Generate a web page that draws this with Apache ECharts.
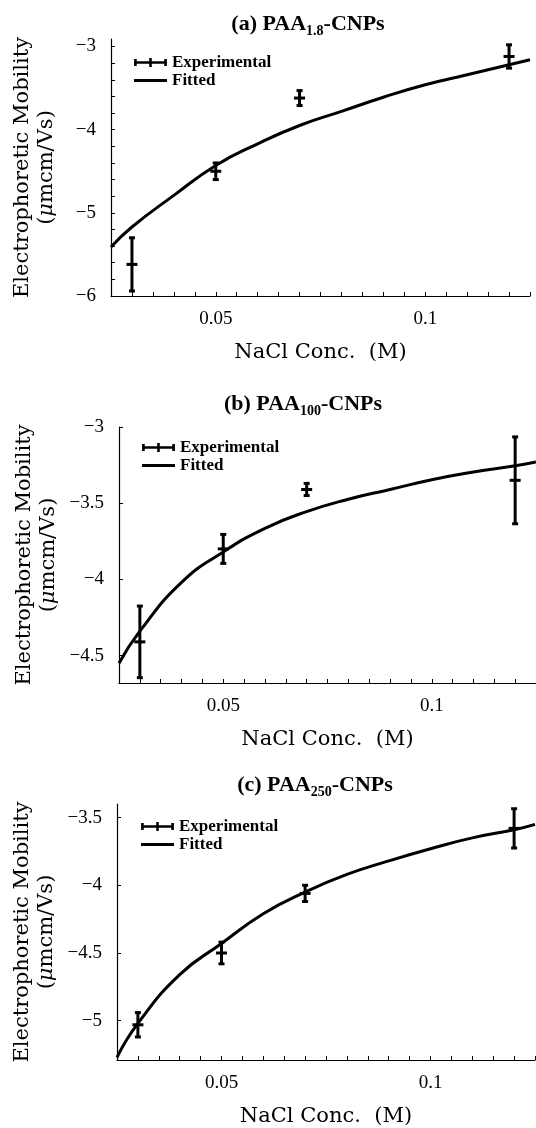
<!DOCTYPE html>
<html>
<head>
<meta charset="utf-8">
<script src="https://cdn.jsdelivr.net/npm/echarts@6/dist/echarts.min.js"></script>
<style>
  html, body { margin: 0; padding: 0; background: #fff; }
  #chart { width: 536px; height: 1128px; }
</style>
</head>
<body>
<div id="chart"></div>
<script>
// NaCl concentrations (M) of the measurements
const conc = [0.03, 0.05, 0.07, 0.12];

// measured mobility and half error bar, per panel
const expA = [-5.62, -4.50, -3.62, -3.12];
const errA = [0.32, 0.10, 0.09, 0.14];
const expB = [-4.41, -3.80, -3.41, -3.35];
const errB = [0.235, 0.095, 0.04, 0.285];
const expC = [-5.03, -4.50, -4.06, -3.58];
const errC = [0.09, 0.08, 0.06, 0.145];

// fitted curves
const fitX = [0.025, 0.03, 0.04, 0.05, 0.06, 0.07, 0.08, 0.09, 0.1, 0.11, 0.12, 0.125];
const fitA = [-5.41, -5.17, -4.79, -4.43, -4.17, -3.95, -3.78, -3.61, -3.46, -3.34, -3.22, -3.16];
const fitB = [-4.55, -4.34, -4.02, -3.82, -3.665, -3.555, -3.474, -3.41, -3.346, -3.295, -3.254, -3.229];
const fitC = [-5.27, -5.02, -4.66, -4.43, -4.21, -4.05, -3.92, -3.82, -3.73, -3.65, -3.59, -3.55];

// ticks and tick labels
const xTicks = [0.03, 0.035, 0.04, 0.045, 0.05, 0.055, 0.06, 0.065, 0.07, 0.075, 0.08, 0.085,
                0.09, 0.095, 0.1, 0.105, 0.11, 0.115, 0.12, 0.125];
const xLabels = [0.05, 0.1];
const yTicksA = [-6, -5.8, -5.6, -5.4, -5.2, -5, -4.8, -4.6, -4.4, -4.2, -4, -3.8, -3.6, -3.4, -3.2, -3];
const yLabelsA = [-6, -5, -4, -3];
const yLabelsB = [-4.5, -4, -3.5, -3];
const yLabelsC = [-5, -4.5, -4, -3.5];

const titles = [
  { sub: '1.8', lead: '(a) PAA', x: 303, y: 5 },
  { sub: '100', lead: '(b) PAA', x: 298, y: 385 },
  { sub: '250', lead: '(c) PAA', x: 310, y: 766 }
];

const serif = '"Liberation Serif", "DejaVu Serif", serif';
const wideSerif = '"DejaVu Serif", "Liberation Serif", serif';
const errIcon = 'path://M0,3L31,3L31,5.5L0,5.5Z M0,1L2.5,1L2.5,7.5L0,7.5Z M28.5,1L31,1L31,7.5L28.5,7.5Z M14.3,0L16.7,0L16.7,8.5L14.3,8.5Z';
const lineIcon = 'path://M0,3L31,3L31,5.8L0,5.8Z';

const fmt = v => (v < 0 ? '\u2212' : '') + Math.abs(v);

const grids = [
  { left: 111, top: 39, width: 419, height: 257 },
  { left: 119, top: 427, width: 419, height: 256 },
  { left: 117, top: 804, width: 418, height: 258 }
];
const yRanges = [[-6, -2.91], [-4.68, -3], [-5.29, -3.40]];
const yTickSets = [yTicksA, yLabelsB, yLabelsC];
const yLabelSets = [yLabelsA, yLabelsB, yLabelsC];
const expSets = [[expA, errA], [expB, errB], [expC, errC]];
const fitSets = [fitA, fitB, fitC];
const legendPos = [[129, 49], [137, 434], [136, 813]];

const renderErr = (params, api) => {
  const c = api.coord([api.value(0), api.value(1)]);
  const lo = api.coord([api.value(0), api.value(2)]);
  const hi = api.coord([api.value(0), api.value(3)]);
  const style = { stroke: '#000', lineWidth: 3 };
  return {
    type: 'group',
    children: [
      { type: 'line', shape: { x1: c[0], y1: lo[1], x2: c[0], y2: hi[1] }, style: style },
      { type: 'line', shape: { x1: c[0] - 3, y1: lo[1], x2: c[0] + 3, y2: lo[1] }, style: style },
      { type: 'line', shape: { x1: c[0] - 3, y1: hi[1], x2: c[0] + 3, y2: hi[1] }, style: style },
      { type: 'line', shape: { x1: c[0] - 5.5, y1: c[1], x2: c[0] + 5.5, y2: c[1] }, style: style }
    ]
  };
};

const axisLineStyle = { show: true, lineStyle: { color: '#000', width: 1.2 } };

const option = {
  animation: false,
  backgroundColor: '#fff',
  title: titles.map(t => ({
    text: '{b|' + t.lead + '}{s|' + t.sub + '}{b|-CNPs}',
    left: t.x,
    top: t.y,
    textAlign: 'center',
    textStyle: {
      rich: {
        b: { fontFamily: serif, fontWeight: 'bold', fontSize: 22, color: '#000', lineHeight: 28 },
        s: { fontFamily: serif, fontWeight: 'bold', fontSize: 14, color: '#000', lineHeight: 15, verticalAlign: 'bottom' }
      }
    }
  })),
  legend: legendPos.map(p => ({
    orient: 'vertical',
    left: p[0],
    top: p[1],
    itemWidth: 33,
    itemHeight: 9,
    itemGap: 1,
    textStyle: { fontFamily: serif, fontWeight: 'bold', fontSize: 17, color: '#000' },
    itemStyle: { borderWidth: 0 },
    data: [
      { name: 'Experimental', icon: errIcon },
      { name: 'Fitted', icon: lineIcon }
    ]
  })),
  grid: grids,
  xAxis: grids.map((g, i) => ({
    type: 'value',
    gridIndex: i,
    min: 0.025,
    max: 0.125,
    name: 'NaCl Conc.  (M)',
    nameLocation: 'middle',
    nameGap: 46,
    nameTextStyle: { fontFamily: wideSerif, fontSize: 21, color: '#000' },
    axisLine: axisLineStyle,
    axisTick: { show: true, inside: true, length: 4, customValues: xTicks, lineStyle: { color: '#000' } },
    axisLabel: { customValues: xLabels, margin: 14, fontFamily: serif, fontSize: 19, color: '#000' },
    splitLine: { show: false }
  })),
  yAxis: grids.map((g, i) => ({
    type: 'value',
    gridIndex: i,
    min: yRanges[i][0],
    max: yRanges[i][1],
    name: '{n|Electrophoretic Mobility}\n{n|(}{i|\u03bc}{n|mcm/Vs)}',
    nameLocation: 'middle',
    nameGap: 52,
    nameTextStyle: {
      rich: {
        n: { fontFamily: wideSerif, fontSize: 21, color: '#000', lineHeight: 24 },
        i: { fontFamily: wideSerif, fontSize: 21, fontStyle: 'italic', color: '#000', lineHeight: 24 }
      }
    },
    axisLine: axisLineStyle,
    axisTick: { show: true, inside: true, length: 4, customValues: yTickSets[i], lineStyle: { color: '#000' } },
    axisLabel: { customValues: yLabelSets[i], margin: 15, fontFamily: serif, fontSize: 19, color: '#000', formatter: fmt },
    splitLine: { show: false }
  })),
  series: []
};

grids.forEach((g, i) => {
  const [vals, errs] = expSets[i];
  option.series.push({
    name: 'Experimental',
    type: 'custom',
    xAxisIndex: i,
    yAxisIndex: i,
    itemStyle: { color: '#000' },
    renderItem: renderErr,
    encode: { x: 0, y: [1, 2, 3] },
    data: conc.map((x, k) => [x, vals[k], vals[k] - errs[k], vals[k] + errs[k]])
  });
  option.series.push({
    name: 'Fitted',
    type: 'line',
    xAxisIndex: i,
    yAxisIndex: i,
    smooth: true,
    showSymbol: false,
    color: '#000',
    lineStyle: { color: '#000', width: 3 },
    data: fitX.map((x, k) => [x, fitSets[i][k]])
  });
});

const chart = echarts.init(document.getElementById('chart'), null, { renderer: 'canvas' });
chart.setOption(option);
</script>
</body>
</html>
